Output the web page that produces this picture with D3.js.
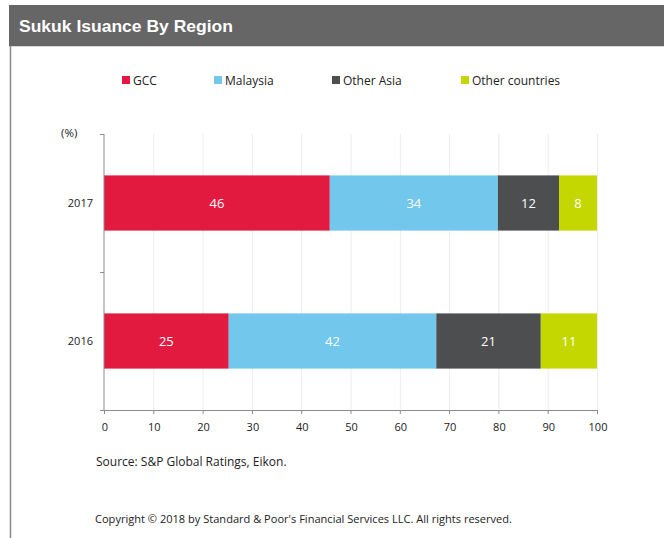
<!DOCTYPE html>
<html><head><meta charset="utf-8">
<script src="https://cdn.jsdelivr.net/npm/d3@7"></script>
<style>body{margin:0;background:#fff}svg{display:block}</style>
</head><body>
<script>
const categories = ["2017", "2016"];
const seriesNames = ["GCC", "Malaysia", "Other Asia", "Other countries"];
const gcc = [45.8, 25.3];
const malaysia = [34.1, 42.1];
const otherAsia = [12.4, 21.2];
const otherCountries = [7.7, 11.4];
const xTicks = [0,10,20,30,40,50,60,70,80,90,100];
const colors = ["#E31A3F", "#71C7EC", "#4D4E50", "#C5D700"];

const W = 664, H = 538;
const svg = d3.select("body").append("svg").attr("width", W).attr("height", H);

// header
svg.append("rect").attr("x", 9).attr("y", 5).attr("width", W - 9).attr("height", 41).attr("fill", "#666666");
svg.append("line").attr("x1", 9).attr("x2", W).attr("y1", 46.5).attr("y2", 46.5).attr("stroke", "#d8d8d8");
svg.append("line").attr("x1", 10.5).attr("x2", 10.5).attr("y1", 46).attr("y2", H).attr("stroke", "#8a8a8a").attr("stroke-width", 1.5);
svg.append("text").attr("x", 19).attr("y", 32).text("Sukuk Isuance By Region")
  .attr("fill", "#fff").attr("font-family", "Liberation Sans, Arial").attr("font-weight", "bold").attr("font-size", 17)
  .attr("textLength", 214).attr("lengthAdjust", "spacingAndGlyphs");

const rows = categories.map((c, i) => ({cat: c, vals: [gcc[i], malaysia[i], otherAsia[i], otherCountries[i]]}));

const x = d3.scaleLinear().domain([0, 100]).range([104, 597]);
const y = d3.scaleBand().domain(categories).range([134, 410]).paddingInner(0.6).paddingOuter(0.3);

// gridlines
svg.append("g").selectAll("line").data(xTicks.slice(1)).join("line")
  .attr("x1", d => x(d) + 0.5).attr("x2", d => x(d) + 0.5).attr("y1", 134).attr("y2", 410)
  .attr("stroke", "#ececec");

// bars
const stackData = rows.map(r => {
  let acc = 0;
  return r.vals.map((v, j) => { const s = acc; acc += v; return {cat: r.cat, j, v, x0: s, x1: acc}; });
}).flat();

svg.append("g").selectAll("rect").data(stackData).join("rect")
  .attr("x", d => x(d.x0)).attr("width", d => x(d.x1) - x(d.x0))
  .attr("y", d => y(d.cat)).attr("height", y.bandwidth())
  .attr("fill", d => colors[d.j]);

svg.append("g").selectAll("text").data(stackData).join("text")
  .attr("x", d => (x(d.x0) + x(d.x1)) / 2).attr("y", d => y(d.cat) + y.bandwidth() / 2 + 5)
  .attr("text-anchor", "middle").attr("fill", "#fff")
  .attr("font-family", "Open Sans, DejaVu Sans").attr("font-size", 13)
  .text(d => d3.format(".0f")(d.v));

// axes
const axisColor = "#8c8c8c";
svg.append("line").attr("x1", 104).attr("x2", 104).attr("y1", 134).attr("y2", 410).attr("stroke", axisColor);
svg.append("line").attr("x1", 104).attr("x2", 597).attr("y1", 410.5).attr("y2", 410.5).attr("stroke", axisColor);
[134, 272, 410].forEach(t => svg.append("line").attr("x1", 100).attr("x2", 104).attr("y1", t + 0.5).attr("y2", t + 0.5).attr("stroke", axisColor));
svg.append("g").selectAll("line").data(xTicks).join("line")
  .attr("x1", d => x(d) + 0.5).attr("x2", d => x(d) + 0.5).attr("y1", 410).attr("y2", 414).attr("stroke", axisColor);

svg.append("g").selectAll("text").data(xTicks).join("text")
  .attr("x", d => x(d) + 1).attr("y", 431).attr("text-anchor", "middle")
  .attr("font-family", "Open Sans, DejaVu Sans").attr("font-size", 11).attr("fill", "#222")
  .text(d => d);

svg.append("g").selectAll("text").data(categories).join("text")
  .attr("x", 93).attr("y", d => y(d) + y.bandwidth() / 2 + 4).attr("text-anchor", "end")
  .attr("font-family", "Open Sans, DejaVu Sans").attr("font-size", 11).attr("fill", "#222")
  .text(d => d);

svg.append("text").attr("x", 61).attr("y", 137).text("(%)")
  .attr("font-family", "Open Sans, DejaVu Sans").attr("font-size", 11.5).attr("fill", "#222");

// legend
const legX = [122, 214, 332, 461];
const leg = svg.append("g").selectAll("g").data(seriesNames).join("g")
  .attr("transform", (d, i) => `translate(${legX[i]},0)`);
leg.append("rect").attr("x", 0).attr("y", 76).attr("width", 8).attr("height", 8).attr("fill", (d, i) => colors[i]);
leg.append("text").attr("x", 11).attr("y", 85).text(d => d)
  .attr("font-family", "Open Sans, DejaVu Sans").attr("font-size", 12).attr("fill", "#222");

svg.append("text").attr("x", 96).attr("y", 466).text("Source: S&P Global Ratings, Eikon.")
  .attr("font-family", "Open Sans, DejaVu Sans").attr("font-size", 12).attr("fill", "#222");
svg.append("text").attr("x", 95).attr("y", 523).text("Copyright © 2018 by Standard & Poor's Financial Services LLC. All rights reserved.")
  .attr("font-family", "Open Sans, DejaVu Sans").attr("font-size", 10.5).attr("fill", "#222")
  .attr("textLength", 417).attr("lengthAdjust", "spacingAndGlyphs");
</script>
</body></html>
